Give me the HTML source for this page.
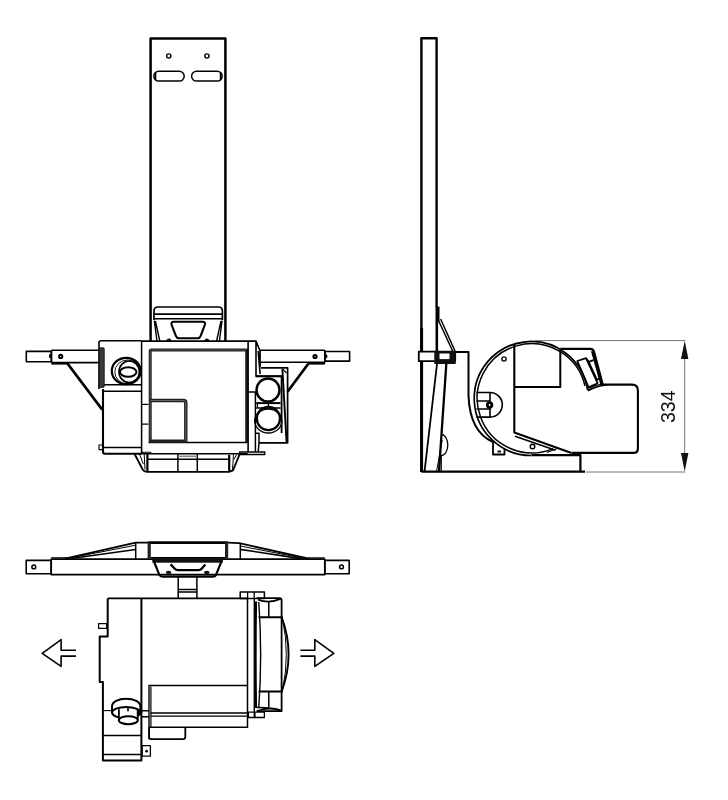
<!DOCTYPE html>
<html><head><meta charset="utf-8"><style>
html,body{margin:0;padding:0;background:#fff;}
body{width:728px;height:800px;overflow:hidden;position:relative;}
svg{position:absolute;left:0;top:0;}
.t{font-family:"Liberation Sans",sans-serif;}
</style></head><body>
<svg width="728" height="800" viewBox="0 0 728 800" fill="none" stroke="#000" stroke-linejoin="round" stroke-linecap="butt">
<!-- ===== FRONT VIEW ===== -->
<g id="front">
  <!-- plate -->
  <path d="M150.6 341 V38.5 H225.4 V341" stroke-width="2.5"/>
  <circle cx="168.8" cy="56" r="2.1" stroke-width="1.4"/>
  <circle cx="206.9" cy="56" r="2.1" stroke-width="1.4"/>
  <rect x="153.8" y="71.3" width="30.4" height="9.8" rx="4.9" stroke-width="1.5"/>
  <rect x="191.6" y="71.3" width="30.6" height="9.8" rx="4.9" stroke-width="1.5"/>
  <path d="M155.5 72.5 V80 M220.6 72.5 V80" stroke-width="1.6"/>
  <!-- bracket -->
  <path d="M154 341 V311 Q154 307 158 307 H218.4 Q222.4 307 222.4 311 V341" stroke-width="1.7" fill="#fff" stroke="none"/>
  <path d="M154 320 V311 Q154 307 158 307 H218.4 Q222.4 307 222.4 311 V320" stroke-width="1.7"/>
  <path d="M154 314.1 H222.4 M154 318.8 H222.4" stroke-width="1.6"/>
  <path d="M154.3 320.7 L157 341 M155.4 321 L159.8 341 M222.1 320.7 L219.4 341 M221 321 L216.6 341" stroke-width="1.4"/>
  <path d="M173.8 321.8 H202.8 Q205.8 321.8 204.8 324.8 L200.6 336.2 Q199.8 338.3 197.6 338.3 H179 Q176.8 338.3 176 336.2 L171.6 324.8 Q170.8 321.8 173.8 321.8 Z" stroke-width="2.1"/>
  <path d="M166.4 341 A2.5 2.5 0 0 1 171.4 341 Z M204.4 341 A2.5 2.5 0 0 1 209.4 341 Z" fill="#111" stroke="none"/>
  <!-- main body outer -->
  <path d="M141.6 341.2 H248.1" stroke-width="1.7"/>
  <path d="M141.6 341.2 V453.7 H247.7" stroke-width="1.5"/>
  <!-- inner thick rect -->
  <path d="M150.2 442.5 V351.2 Q150.2 349.9 151.5 349.9 H246.7 V442.5" stroke-width="3" stroke="#1e1e1e"/>
  <path d="M150.2 442 V351.5 Q150.2 350 151.7 350 H246" stroke-width="0.7" stroke="#666"/>
  <path d="M148.6 442.5 H247.3" stroke-width="1.7"/>
  <!-- small inner box -->
  <path d="M150.2 400.5 H183.5 Q185.8 400.5 185.8 402.8 V441.3 H150.2" stroke-width="3.4" stroke="#1e1e1e"/>
  <path d="M150.6 400.5 H183.5 Q185.8 400.5 185.8 402.8 V441.3" stroke-width="0.8" stroke="#777"/>
  <!-- small tab at left of body -->
  <path d="M141.6 404.4 H148.4 M141.6 424.2 H148.4" stroke-width="1.3"/>
  <!-- left box -->
  <path d="M141.6 340.7 H101 Q99 340.7 99 342.7 V389" stroke-width="1.6"/><path d="M103 389 V452 Q103 453.7 105 453.7 H141.6" stroke-width="2.1"/>
  <path d="M102.5 384.7 H141.4 M102.5 391.2 H141.4 M102.5 447.5 H141.6" stroke-width="1.5"/>
  <rect x="99.2" y="347.8" width="5" height="39.6" rx="1" fill="#3a3a3a" stroke="#111" stroke-width="0.9"/>
  <path d="M99 445 H102.5 V449.6 H99 Z" stroke-width="1.1"/>
  <path d="M142 452.3 H150.7 V454" stroke-width="1.1"/>
  <!-- knob -->
  <ellipse cx="126.2" cy="371" rx="14.4" ry="13.2" stroke-width="2.2"/>
  <ellipse cx="127.6" cy="372" rx="12.8" ry="12" stroke-width="0.9"/>
  <ellipse cx="129.2" cy="371.8" rx="10.2" ry="10.8" stroke-width="1.7"/>
  <ellipse cx="128.2" cy="372" rx="8.3" ry="4.8" stroke-width="2"/>
  <!-- left arm -->
  <path d="M51.4 350.2 H98.8 M51.4 362.6 H98.8 M51.4 350.2 V362.6" stroke-width="1.6"/>
  <path d="M51.4 363.6 H68" stroke-width="2"/>
  <rect x="26.3" y="351.4" width="25.1" height="10.4" stroke-width="1.6"/>
  <path d="M51.4 353.5 A2.5 2.5 0 0 0 51.4 358.5 Z" fill="#111" stroke="none"/>
  <circle cx="60.7" cy="356.4" r="1.6" stroke-width="2"/>
  <path d="M67.4 363.4 L102.2 409.6" stroke-width="2.6"/>
  <!-- right column -->
  <path d="M248.1 341 V452 M256 341 V376.4 M248.1 341.1 H256 L260.1 351 V367 M258.2 351 L260.1 374" stroke-width="1.6"/>
  <path d="M248.1 392 H255.4 V452 M255.4 433.2 H259 V443 L258.2 452" stroke-width="1.5"/>
  <rect x="239.6" y="452" width="25.2" height="2.5" stroke-width="1.3"/>
  <!-- right arm -->
  <path d="M259.4 350.3 H324.9 M260.5 362.2 H324.9 V350.3" stroke-width="1.6"/>
  <path d="M308 363.6 H324.9" stroke-width="2"/>
  <rect x="324.9" y="351.5" width="24.7" height="9.6" stroke-width="1.6"/>
  <circle cx="315" cy="356.5" r="1.6" stroke-width="2"/>
  <path d="M324.9 353.8 A2.5 2.5 0 0 1 324.9 358.8 Z" fill="#111" stroke="none"/>
  <path d="M308.3 363.8 L287.5 391.8" stroke-width="2.7"/>
  <!-- right side box -->
  <path d="M260.9 367.8 H287.6 V442.8 H259" stroke-width="1.7"/>
  <path d="M255.6 376.2 H282" stroke-width="2.2"/><path d="M281.6 376.2 V433" stroke-width="1.8"/>
  <path d="M282.4 369 L286.6 442.6" stroke-width="1.9"/><path d="M282.5 369 L286.5 373" stroke-width="1.1"/>
  <circle cx="268" cy="390" r="11.5" stroke-width="2.4"/>
  <path d="M256.2 403.1 H280.6" stroke-width="2"/>
  <path d="M256.2 408 H280.6 M257.4 403.1 V408 M268.4 403 V408" stroke-width="1.3"/>
  <circle cx="268.4" cy="418.6" r="11.6" stroke-width="2.3"/>
  <ellipse cx="268.3" cy="421" rx="13.6" ry="12" stroke-width="1.3"/>
  <!-- base -->
  <path d="M134.6 454 L142.4 469 Q143.6 471.8 147.4 471.8 H229 L233 470.3 L239.6 454.3" stroke-width="1.8"/>
  <path d="M147.4 453.7 V471.8 M229.2 455 V471" stroke-width="2.2"/>
  
  <path d="M147.4 459.2 H229.2" stroke-width="1.5"/>
  <path d="M139.5 454 L143.3 464 M144.2 454 L145 469.7 M236.9 454.3 L234 459.3 M233.5 454.3 L232.5 469.7" stroke-width="1"/>
  <path d="M177.9 453.7 V471.8 M197.3 453.7 V471.8" stroke-width="1.5"/>
  <path d="M177.9 456.3 H197.3" stroke-width="1.6" stroke="#888"/>
</g>
<g id="side">
  <!-- plate -->
  <path d="M421.4 472 V38.2 H436.6 V307" stroke-width="2.4"/><path d="M421.6 328 V472" stroke-width="3"/>
  <path d="M437.5 306.6 V321.5" stroke-width="4"/><path d="M436.8 321 V351" stroke-width="2.6"/>
  <path d="M437.8 319 L452.6 351 M440.6 319 L455 351" stroke-width="1.5"/>
  <!-- clamp block -->
  <rect x="418.8" y="351.6" width="36.4" height="9.6" stroke-width="1.8" fill="#fff"/>
  <rect x="434.3" y="351" width="21.4" height="13" fill="#111" stroke="none"/>
  <rect x="439.5" y="353.5" width="10" height="5.6" fill="#fff" stroke="none"/>
  <!-- bracket plate -->
  <path d="M455.5 352 H468.5 V396 Q470 432 493 442" stroke-width="2"/>
  <!-- legs -->
  <path d="M437 364 L424.6 471" stroke-width="1.8"/><path d="M446.3 364 L439 471" stroke-width="2.3"/><path d="M442.2 440 L436.6 471" stroke-width="1"/>
  <path d="M441.2 434.4 A6.6 10.6 0 0 1 441.2 455.6 V471" stroke-width="1.3"/>
  <!-- base line -->
  <path d="M421.4 471.6 H585" stroke-width="2.2"/>
  <path d="M531.5 455.1 H580.4 V471.6" stroke-width="2.2"/>
  <!-- disc -->
  <path d="M587.6 390 A57 57 0 1 0 531.5 455.5" stroke-width="1.7"/>
  <path d="M585 386 A54.6 54.6 0 1 0 553 448.6" stroke-width="1.5"/>
  <circle cx="504" cy="359" r="2.1" stroke-width="1.4"/>
  <circle cx="532.5" cy="446.5" r="2.3" stroke-width="1.4"/>
  <!-- inner lines -->
  <path d="M514.3 344 V432.5 L571.5 453" stroke-width="2.1"/><path d="M515 436.3 L555.5 450.2" stroke-width="1.6"/>
  <path d="M514.3 387.1 H560.3 V349" stroke-width="2"/>
  <path d="M546.8 452.5 L556.6 448.7" stroke-width="1.2"/>
  <!-- pivot -->
  <path d="M476.5 392.5 H490 A12.3 12.3 0 0 1 490 417.1 H476.5 M490 392.5 V417.1 M476.5 401 H490 M476.5 409 H490" stroke-width="1.6"/>
  <circle cx="489.6" cy="405" r="2.3" stroke-width="2.8" fill="#fff"/>
  <!-- foot -->
  <path d="M493 442 V454.5 H504.5 V449" stroke-width="1.8"/>
  <rect x="497.5" y="450.5" width="3.5" height="2" fill="#111" stroke="none"/>
  <!-- block right -->
  <path d="M560.3 348.9 H590 Q593 348.9 594 351.5 L602.8 384.6 H632 Q637.9 384.6 637.9 390.5 V448.4 Q637.9 452.9 633.4 452.9 H571.7" stroke-width="2.1"/>
  <path d="M592.4 351 L601.6 384" stroke-width="2.8"/>
  <path d="M587.8 390.6 Q596 386.2 606 384.8" stroke-width="1.8"/>
  <path d="M588.5 388.3 Q596 384.8 603 384.2" stroke-width="1.2"/>
  <path d="M577.3 361 L586 358.2 L597.6 383.2 L588.6 387.4 Z" stroke-width="1.8"/>
  <path d="M586.3 358.5 L588.6 361.8 L593.6 360.1 M601.5 377.6 L596.4 379.8" stroke-width="1.8"/>
  <path d="M588.6 361.8 L597 380" stroke-width="1.8"/>
  <!-- dimension -->
  <path d="M535 340.6 H685.5 M586 472 H685.5 M684.7 352 V460" stroke="#666" stroke-width="0.9"/>
  <path d="M684.7 340.8 L681 359 H688.4 Z M684.7 471.6 L681 453 H688.4 Z" fill="#111" stroke="none"/>
</g>

<g id="top">
  <!-- arm -->
  <rect x="26.2" y="560.4" width="25" height="13.4" stroke-width="1.6"/>
  <circle cx="33.8" cy="566.9" r="1.9" stroke-width="1.5"/>
  <rect x="324.8" y="560.4" width="24.4" height="13.4" stroke-width="1.6"/>
  <circle cx="341.5" cy="566.9" r="1.9" stroke-width="1.5"/>
  <path d="M51.2 559.2 H324.8 V574.6 H51.2 Z" stroke-width="1.7"/>
  <path d="M51.2 557.8 H67" stroke-width="1.2"/>
  <!-- left brace -->
  <path d="M65 558.6 L135.7 542.6 H147.5" stroke-width="1.7"/>
  <path d="M67 558.6 L135.7 545.2" stroke-width="1"/>
  <path d="M71 558.6 L135.7 549.6" stroke-width="1.5"/>
  <path d="M135.7 543 V559" stroke-width="1.5"/>
  <!-- center top -->
  <path d="M147.5 542.6 H228.2" stroke-width="2.6"/>
  <rect x="147.6" y="542.4" width="3.2" height="16.6" fill="#222" stroke="none"/>
  <rect x="225" y="542.4" width="3.2" height="16.6" fill="#222" stroke="none"/>
  <path d="M151 557.8 H225" stroke-width="1.4"/>
  <!-- right brace -->
  <path d="M228.2 542.6 L239.2 543.2 L309 558.6" stroke-width="1.8"/>
  <path d="M240.3 546 L305 558.6" stroke-width="1"/>
  <path d="M240.3 549.4 L301 558.6" stroke-width="1.6"/>
  <path d="M308 557.9 H324.8" stroke-width="1.2"/>
  <path d="M240.3 543 V559" stroke-width="1.5"/>
  <!-- trapezoid mount -->
  <rect x="152.4" y="558.4" width="70.3" height="4.3" fill="#111" stroke="none"/>
  <path d="M153.4 560 L159.4 575 Q160.3 576.6 162.5 576.6 H213 Q215.2 576.6 216 575 L222 560" stroke-width="2.1"/>
  <path d="M170.6 564.4 L174.8 568.8 Q175.9 570.1 178 570.1 H198.6 Q200.6 570.1 201.6 568.8 L205.3 564.4" stroke-width="2.3"/>
  <ellipse cx="168.6" cy="572.4" rx="2.8" ry="1.7" fill="#111" stroke="none"/>
  <ellipse cx="206.8" cy="572.4" rx="2.8" ry="1.7" fill="#111" stroke="none"/>
  <!-- post -->
  <path d="M178.2 576.6 V598.5 M196.9 576.6 V598.5 M178.2 589.4 H196.9 M178.2 592.1 H196.9" stroke-width="1.5"/>
  <!-- body -->
  <path d="M107.7 598.4 H247.5" stroke-width="1.8"/>
  <path d="M107.7 598.4 V636.4 H99.7 V681.9 H102.9 V760.6 H141.4 V598.4" stroke-width="2"/>
  <rect x="98.6" y="623.7" width="8" height="4.7" stroke-width="1.2"/>
  <path d="M247.5 598.4 V727.2 H149" stroke-width="1.5"/>
  <path d="M102.9 735.6 H141.4 M102.9 754.4 H141.4" stroke-width="1.5"/>
  <path d="M102.9 710.6 H111.6" stroke-width="1.1"/>
  <!-- knob -->
  <path d="M112 712.6 V706.4 A14.2 7.7 0 0 1 140.4 706.4 V712.6" stroke-width="2"/>
  <ellipse cx="126.2" cy="712.6" rx="14.2" ry="5.7" stroke-width="2" fill="#fff"/>
  <rect x="118.9" y="712.8" width="18.8" height="7.4" fill="#fff" stroke="none"/>
  <path d="M118.9 709.3 V720.2 M137.7 709.3 V720.2" stroke-width="1.8"/>
  <ellipse cx="128.3" cy="720.2" rx="9.5" ry="4" stroke-width="2" fill="#fff"/>
  <path d="M128 707.4 V711.3" stroke-width="1.7"/>
  <path d="M137.7 710 L141 713 L137.7 716 Z" fill="#000" stroke="none"/>
  <!-- small tab -->
  <rect x="142.2" y="745.6" width="8.2" height="10.6" stroke-width="1.3"/>
  <circle cx="146.6" cy="751.2" r="1.4" fill="#111" stroke="none"/>
  <!-- right box -->
  <path d="M149 739.4 V685.5 H247.5" stroke-width="1.4"/>
  <path d="M150.9 686.5 V727" stroke-width="1.2"/>
  <path d="M141.4 710.7 H149 M141.4 716.7 H149" stroke-width="1.5"/>
  <path d="M150.9 713 H247.5 M150.9 716.1 H247.5" stroke-width="1.4"/>
  <path d="M149.1 727.6 V737 Q149.1 739.1 151.5 739.1 H183 Q185.3 739.1 185.3 737 V727.6" stroke-width="1.8"/>
  <!-- right side strip + tabs -->
  <path d="M254.3 598.4 V717" stroke-width="1.4"/>
  <rect x="240.2" y="592" width="24.2" height="6.5" stroke-width="1.5"/>
  <path d="M247.6 592 V598.5 M254.2 592 V598.5" stroke-width="1.3"/>
  <rect x="248.4" y="712.2" width="16" height="5.3" stroke-width="1.3"/>
  <path d="M255 712.2 V717.5" stroke-width="1.2"/>
  <!-- right piece -->
  <path d="M255.9 601.5 Q255 655 255.9 708" stroke-width="2.4"/>
  <path d="M258.8 602 Q262.5 655 258.8 707" stroke-width="1.4"/>
  <path d="M256.6 598.2 H279.3 Q281.6 598.2 281.6 600.5 V711.2 H256.6" stroke-width="1.8"/>
  <path d="M258 599.6 Q269 604 281 598.6" stroke-width="1.7"/>
  <path d="M256.6 707.6 Q272 707.4 281.3 710.4 M257 711 Q270 706.5 281.3 711" stroke-width="1.5"/>
  <path d="M258.6 617.2 H282.8 M258.6 691.6 H282.8" stroke-width="2"/>
  <path d="M268.8 601.5 V617.2 M268.8 691.6 V707.6" stroke-width="1.5"/>
  <path d="M281.6 617.2 Q295.6 654.4 281.6 691.6" stroke-width="1.9"/>
  <path d="M282.6 619 Q290 654.4 282.6 690" stroke-width="1"/>
  <!-- arrows -->
  <path d="M75.9 650.3 H61.1 V639.6 L42.2 653.4 L61.1 666.4 V656.1 H75.9" stroke-width="1.6"/>
  <path d="M300.4 650.3 H314.8 V639.6 L333.8 653.4 L314.8 666.4 V656.1 H300.4" stroke-width="1.6"/>
</g>
</svg>
<div class="t" style="position:absolute;left:654.4px;top:422.8px;width:60px;height:24px;transform-origin:0 0;transform:rotate(-90deg);will-change:transform;font-size:19.5px;line-height:1;color:#111;white-space:nowrap;"><span style="position:absolute;left:0;bottom:0;">334</span></div>
</body></html>
